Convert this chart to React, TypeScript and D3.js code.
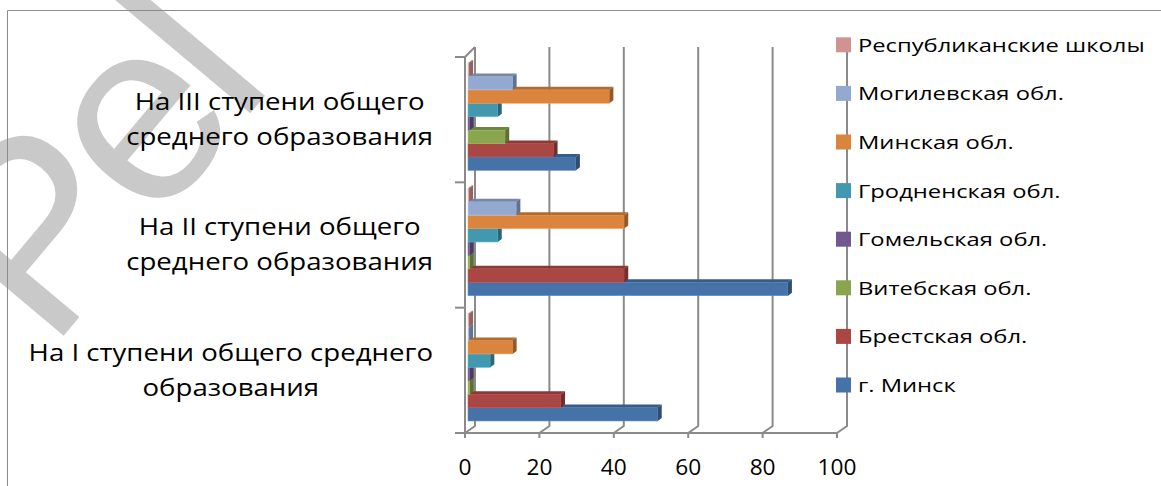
import { useEffect, useRef } from 'react'
import * as d3 from 'd3'

// categories, bottom to top as in the chart
const categories = ['I', 'II', 'III']
const categoryLines = [
  ['На I ступени общего среднего', 'образования'],
  ['На II ступени общего', 'среднего образования'],
  ['На III ступени общего', 'среднего образования'],
]

const seriesNames = [
  'г. Минск',
  'Брестская обл.',
  'Витебская обл.',
  'Гомельская обл.',
  'Гродненская обл.',
  'Минская обл.',
  'Могилевская обл.',
  'Республиканские школы',
]
const seriesColors = ['#4572A7', '#AA4643', '#89A54E', '#71588F', '#4198AF', '#DB843D', '#93A9CF', '#D19392']

// values per series, order: I, II, III
const minsk = [51, 86, 29]
const brest = [25, 42, 23]
const vitebsk = [0.5, 0.5, 10]
const gomel = [0.5, 0.5, 0.5]
const grodno = [6, 8, 8]
const minskObl = [12, 42, 38]
const mogilev = [0.3, 13, 12]
const respub = [0.3, 0.3, 0.3]
const seriesValues = [minsk, brest, vitebsk, gomel, grodno, minskObl, mogilev, respub]

const xTicks = [0, 20, 40, 60, 80, 100]

const W = 1161
const H = 486

export default function App() {
  const svgRef = useRef<SVGSVGElement>(null)

  useEffect(() => {
    if (!svgRef.current) return
    const svg = d3.select(svgRef.current)
    svg.selectAll('*').remove()

    const font = '"Open Sans", sans-serif'
    const grid = '#8a8a8a'

    svg.append('rect').attr('width', W).attr('height', H).attr('fill', '#fff')

    // watermark
    svg.append('text')
      .attr('transform', 'translate(50,352) rotate(-50)')
      .style('font-family', '"Liberation Sans", sans-serif')
      .style('font-size', '260px')
      .style('letter-spacing', '-12px')
      .attr('fill', '#c9c9c9')
      .text('Pel')

    // chart frame
    svg.append('path').attr('d', `M7.5,${H} V10.5 H${W}`)
      .attr('fill', 'none').attr('stroke', '#8c8c8c').attr('stroke-width', 1)

    const x0 = 465, x1 = 837
    const depthX = 10, depthY = -7
    const yTop = 57, yBottom = 433

    const xFront = d3.scaleLinear().domain([0, 100]).range([x0, x1])
    const xBar = d3.scaleLinear().domain([0, 100]).range([x0 + 3, x1 + 3])

    const yCat = d3.scaleBand<string>().domain([...categories].reverse()).range([yTop, yBottom])
    const yInner = d3.scaleBand<number>()
      .domain(d3.range(seriesNames.length).reverse())
      .range([6, 113.3])

    const g = svg.append('g')

    // back wall gridlines + floor depth lines
    xTicks.forEach(t => {
      const fx = xFront(t)
      g.append('path')
        .attr('d', `M${fx},${yBottom} L${fx + depthX},${yBottom + depthY} V${yTop - 10}`)
        .attr('fill', 'none').attr('stroke', grid).attr('stroke-width', 2)
      g.append('line').attr('x1', fx).attr('x2', fx).attr('y1', yBottom).attr('y2', yBottom + 5)
        .attr('stroke', grid).attr('stroke-width', 2)
    })

    // left wall
    g.append('path')
      .attr('d', `M${x0},${yBottom} V${yTop} L${x0 + depthX},${yTop - 10}`)
      .attr('fill', 'none').attr('stroke', grid).attr('stroke-width', 2)
    // floor front edge
    g.append('line').attr('x1', x0 - 10).attr('x2', x1).attr('y1', yBottom).attr('y2', yBottom)
      .attr('stroke', grid).attr('stroke-width', 2)
    // category ticks
    const catEdges = [...yCat.domain().map(c => yCat(c)!), yBottom]
    catEdges.forEach(y => {
      g.append('line').attr('x1', x0 - 10).attr('x2', x0).attr('y1', y).attr('y2', y)
        .attr('stroke', grid).attr('stroke-width', 2)
    })

    // bars (3D), bottom series first so upper bars cover the top faces
    const dx = 4, dy = -3
    categories.forEach((cat, ci) => {
      const band = yCat(cat)!
      seriesNames.forEach((_, si) => {
        const v = seriesValues[si][ci]
        const yb = band + yInner(si)!
        const h = yInner.bandwidth()
        const xa = xBar(0)
        const xb = xBar(v)
        const base = d3.color(seriesColors[si])!
        const bar = g.append('g')
        bar.append('rect').attr('x', xa).attr('y', yb).attr('width', xb - xa).attr('height', h)
          .attr('fill', seriesColors[si])
          .attr('stroke', base.brighter(0.6).formatHex()).attr('stroke-width', 0.6)
        bar.append('path')
          .attr('d', `M${xa},${yb} L${xa + dx},${yb + dy} L${xb + dx},${yb + dy} L${xb},${yb} Z`)
          .attr('fill', base.darker(0.6).formatHex())
        bar.append('path')
          .attr('d', `M${xb},${yb} L${xb + dx},${yb + dy} L${xb + dx},${yb + h + dy} L${xb},${yb + h} Z`)
          .attr('fill', base.darker(1.1).formatHex())
      })
    })

    // x tick labels
    xTicks.forEach(t => {
      svg.append('g').attr('transform', `translate(${xFront(t)},475) scale(1.08,1)`)
        .append('text').attr('text-anchor', 'middle')
        .style('font-family', font).style('font-size', '21px').attr('fill', '#000').text(String(t))
    })

    // category labels: lines centred, block right-aligned to the axis
    const labelRight = 433
    const sx = 1.15
    categories.forEach((cat, ci) => {
      const mid = yCat(cat)! + yCat.bandwidth() / 2
      const lines = categoryLines[ci]
      const lineH = 35
      const t = svg.append('g').attr('transform', `translate(${labelRight},0) scale(${sx},1)`)
        .append('text').attr('text-anchor', 'middle')
        .style('font-family', font).style('font-size', '24px').attr('fill', '#000')
      const spans = lines.map((ln, li) =>
        t.append('tspan').attr('y', mid + (li - (lines.length - 1) / 2) * lineH + 8).text(ln))
      const maxW = d3.max(spans, s => (s.node() as SVGTSpanElement).getComputedTextLength()) || 0
      spans.forEach(s => s.attr('x', -maxW / 2))
    })

    // legend
    const legend = svg.append('g')
    seriesNames.forEach((name, i) => {
      const cy = 385 - i * 48.6
      legend.append('rect').attr('x', 836).attr('y', cy - 7.5).attr('width', 15).attr('height', 15)
        .attr('fill', seriesColors[i])
      legend.append('g').attr('transform', `translate(858,${cy + 7}) scale(1.25,1)`)
        .append('text')
        .style('font-family', font).style('font-size', '19px').attr('fill', '#000').text(name)
    })
  }, [])

  return (
    <svg ref={svgRef} width={W} height={H}
      style={{ position: 'absolute', left: 0, top: 0, display: 'block' }} />
  )
}
